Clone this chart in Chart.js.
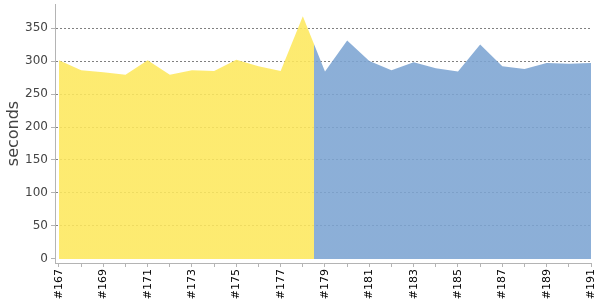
<!DOCTYPE html>
<html>
<head>
<meta charset="utf-8">
<script src="https://cdn.jsdelivr.net/npm/chart.js@4"></script>
<style>
  html, body { margin: 0; padding: 0; background: #fff; }
  #wrap { width: 600px; height: 300px; }
</style>
</head>
<body>
<div id="wrap"><canvas id="buildTime"></canvas></div>
<script>
// build numbers and durations (seconds)
const builds = [167, 168, 169, 170, 171, 172, 173, 174, 175, 176, 177, 178,
                179, 180, 181, 182, 183, 184, 185, 186, 187, 188, 189, 190, 191];
const durations = [301, 286, 283, 279, 301, 279, 286, 285, 302, 292, 285, 368,
                   284, 331, 300, 286, 298, 289, 284, 325, 292, 288, 297, 296, 297];
const results = ['UNSTABLE', 'UNSTABLE', 'UNSTABLE', 'UNSTABLE', 'UNSTABLE', 'UNSTABLE',
                 'UNSTABLE', 'UNSTABLE', 'UNSTABLE', 'UNSTABLE', 'UNSTABLE', 'UNSTABLE',
                 'SUCCESS', 'SUCCESS', 'SUCCESS', 'SUCCESS', 'SUCCESS', 'SUCCESS', 'SUCCESS',
                 'SUCCESS', 'SUCCESS', 'SUCCESS', 'SUCCESS', 'SUCCESS', 'SUCCESS'];
const yTicks = [0, 50, 100, 150, 200, 250, 300, 350];

const colors = {
    UNSTABLE: 'rgba(253, 232, 93, 0.88)',
    SUCCESS: 'rgba(124, 164, 210, 0.88)'
};

// horizontal gradient with hard stops where the build result changes
function areaFill(context) {
    const chart = context.chart;
    const area = chart.chartArea;
    if (!area) return colors.SUCCESS;
    const x = chart.scales.x;
    const g = chart.ctx.createLinearGradient(area.left, 0, area.right, 0);
    const w = area.right - area.left;
    let prev = results[0];
    g.addColorStop(0, colors[prev]);
    for (let i = 1; i < results.length; i++) {
        if (results[i] !== prev) {
            const px = x.getPixelForValue((builds[i - 1] + builds[i]) / 2);
            const t = Math.min(1, Math.max(0, (px - area.left) / w));
            g.addColorStop(t, colors[prev]);
            g.addColorStop(t, colors[results[i]]);
            prev = results[i];
        }
    }
    g.addColorStop(1, colors[prev]);
    return g;
}

const ctx = document.getElementById('buildTime').getContext('2d');
new Chart(ctx, {
    type: 'line',
    data: {
        datasets: [{
            label: 'seconds',
            data: builds.map((b, i) => ({ x: b, y: durations[i] })),
            backgroundColor: areaFill,
            borderWidth: 0,
            pointRadius: 0,
            tension: 0,
            fill: 'origin'
        }]
    },
    options: {
        responsive: true,
        maintainAspectRatio: false,
        animation: false,
        layout: { padding: { top: 4, right: 9, left: 0, bottom: 0 } },
        plugins: { legend: { display: false }, tooltip: { enabled: false } },
        scales: {
            x: {
                type: 'linear',
                min: builds[0] - 0.18,
                max: builds[builds.length - 1],
                afterFit: s => {
                    s.height = 37;
                    s.paddingLeft = 0;
                    s.paddingRight = 0;
                },
                border: { color: '#b4b4b4', width: 1 },
                grid: { drawOnChartArea: false, drawTicks: true, tickLength: 4, color: '#b4b4b4' },
                ticks: {
                    stepSize: 1,
                    includeBounds: false,
                    autoSkip: false,
                    minRotation: 90,
                    maxRotation: 90,
                    padding: 2,
                    color: '#000',
                    font: { family: 'DejaVu Sans', size: 11 },
                    callback: v => (builds.includes(v) && (v - builds[0]) % 2 === 0) ? '#' + v : ''
                }
            },
            y: {
                min: -6.1,
                max: 386.4,
                afterFit: s => {
                    s.width = 55;
                    s.paddingTop = 0;
                    s.paddingBottom = 0;
                },
                border: { color: '#b4b4b4', width: 1, dash: [2, 2] },
                grid: {
                    drawTicks: true,
                    tickLength: 4,
                    color: c => (c.tick && c.tick.value === 0) ? 'rgba(0,0,0,0)' : '#808080',
                    tickColor: '#b4b4b4',
                    tickBorderDash: [],
                    lineWidth: 1
                },
                ticks: {
                    stepSize: 50,
                    includeBounds: false,
                    padding: 3,
                    color: '#444',
                    font: { family: 'DejaVu Sans', size: 12 },
                    callback: v => yTicks.includes(v) ? String(v) : ''
                },
                title: {
                    display: true,
                    text: 'seconds',
                    color: '#444',
                    padding: { top: 4, bottom: 4 },
                    font: { family: 'DejaVu Sans', size: 16 }
                }
            }
        }
    }
});
</script>
</body>
</html>
